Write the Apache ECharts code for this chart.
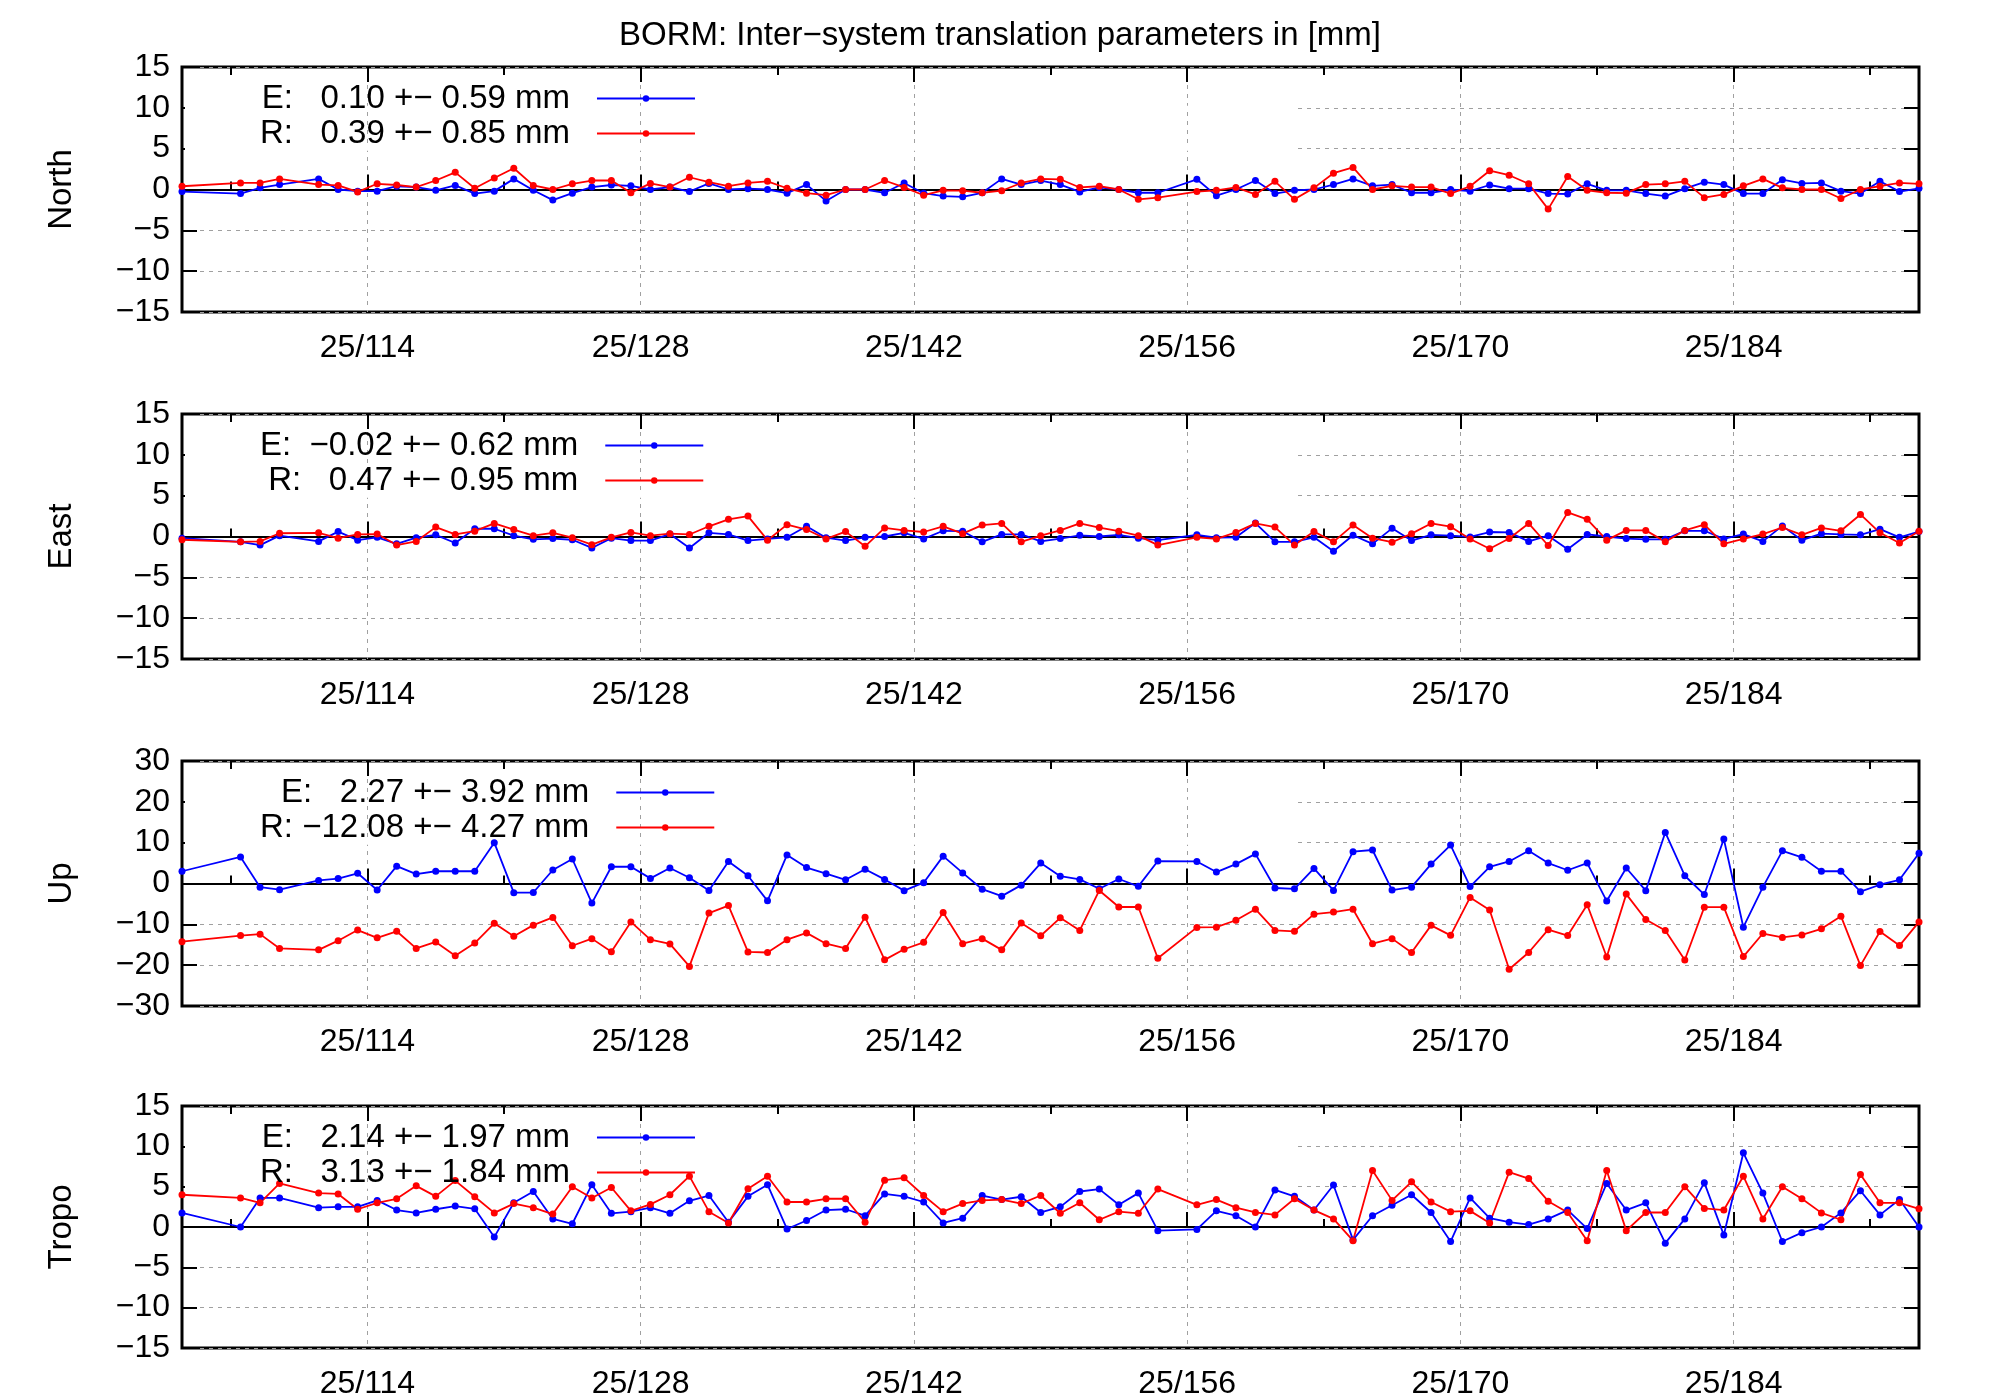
<!DOCTYPE html>
<html><head><meta charset="utf-8">
<script src="https://cdn.jsdelivr.net/npm/echarts@6/dist/echarts.min.js"></script>
<style>html,body{margin:0;padding:0;background:#fff}#c{width:2000px;height:1400px}</style>
</head><body><div id="c"></div>
<script>
const title = 'BORM: Inter\u2212system translation parameters in [mm]';
const days = [104.5,107.5,108.5,109.5,111.5,112.5,113.5,114.5,115.5,116.5,117.5,118.5,119.5,120.5,121.5,122.5,123.5,124.5,125.5,126.5,127.5,
128.5,129.5,130.5,131.5,132.5,133.5,134.5,135.5,136.5,137.5,138.5,139.5,140.5,141.5,142.5,143.5,144.5,145.5,146.5,147.5,148.5,149.5,
150.5,151.5,152.5,153.5,154.5,156.5,157.5,158.5,159.5,160.5,161.5,162.5,163.5,164.5,165.5,166.5,167.5,168.5,169.5,170.5,171.5,172.5,
173.5,174.5,175.5,176.5,177.5,178.5,179.5,180.5,181.5,182.5,183.5,184.5,185.5,186.5,187.5,188.5,189.5,190.5,191.5,192.5,193.5];
const majorTicks = [114,128,142,156,170,184];
const minorTicks = [107,121,135,149,163,177,191];
const panelNames = ['North','East','Up','Tropo'];
const legendE = ['E:   0.10 +\u2212 0.59 mm','E:  \u22120.02 +\u2212 0.62 mm','E:   2.27 +\u2212 3.92 mm','E:   2.14 +\u2212 1.97 mm'];
const legendR = ['R:   0.39 +\u2212 0.85 mm','R:   0.47 +\u2212 0.95 mm','R: \u221212.08 +\u2212 4.27 mm','R:   3.13 +\u2212 1.84 mm'];
const northE = [-0.25,-0.5,0.2,0.6,1.3,0,-0.2,-0.2,0.4,0.3,-0.1,0.5,-0.5,-0.2,1.3,-0.1,-1.3,-0.45,0.3,0.55,0.45,0,0.3,-0.25,0.75,0,0.1,0,
-0.45,0.6,-1.4,0,0,-0.4,0.8,-0.45,-0.8,-0.9,-0.4,1.3,0.6,1.1,0.6,-0.3,0.25,0,-0.4,-0.4,1.25,-0.75,0,1.1,-0.5,-0.1,0,0.6,1.3,
0.45,0.6,-0.4,-0.4,0,-0.2,0.55,0.1,0.1,-0.5,-0.55,0.7,-0.1,-0.1,-0.5,-0.8,0.1,0.9,0.6,-0.5,-0.5,1.2,0.75,0.8,-0.2,-0.5,1.0,-0.25,0.15];
const northR = [0.4,0.8,0.8,1.3,0.6,0.5,-0.3,0.7,0.55,0.3,1.1,2.1,0.15,1.4,2.6,0.5,0,0.7,1.1,1.1,-0.4,0.75,0.3,1.5,0.9,0.4,0.8,1.0,
0.15,-0.45,-0.7,0,0,1.1,0.25,-0.7,-0.1,-0.15,-0.4,-0.15,0.8,1.3,1.25,0.25,0.4,0,-1.2,-1.0,-0.25,-0.1,0.25,-0.6,1.0,-1.2,0.2,2.0,2.7,
0,0.45,0.3,0.3,-0.5,0.4,2.3,1.75,0.7,-2.4,1.6,-0.1,-0.4,-0.45,0.6,0.7,1.0,-1.0,-0.6,0.45,1.3,0.2,0,0,-1.1,0,0.4,0.8,0.7];
const eastE = [-0.2,-0.65,-1.05,0.1,-0.6,0.6,-0.45,-0.1,-0.9,-0.15,0.2,-0.8,0.95,0.95,0.1,-0.35,-0.25,-0.4,-1.4,-0.2,-0.5,-0.5,0.3,-1.4,0.45,0.25,-0.5,-0.3,
-0.1,1.25,-0.15,-0.5,-0.1,0,0.45,-0.3,0.7,0.65,-0.65,0.25,0.25,-0.6,-0.25,0.15,0,0.2,-0.2,-0.45,0.2,-0.15,-0.1,1.65,-0.65,-0.65,-0.1,-1.8,0.15,
-0.9,1.0,-0.5,0.2,0.1,-0.05,0.55,0.5,-0.6,0.1,-1.55,0.25,0,-0.25,-0.35,-0.35,0.7,0.7,-0.3,0.3,-0.6,1.3,-0.45,0.35,0.25,0.2,0.9,-0.1,0.6];
const eastR = [-0.4,-0.65,-0.6,0.4,0.45,-0.2,0.25,0.3,-1.05,-0.6,1.15,0.25,0.65,1.6,0.85,0.1,0.45,-0.15,-1.0,-0.1,0.5,0.1,0.35,0.25,1.25,2.1,2.5,-0.45,
1.45,0.85,-0.3,0.6,-1.2,1.05,0.75,0.55,1.25,0.35,1.4,1.6,-0.65,0.1,0.75,1.6,1.1,0.65,0.1,-1.05,-0.1,-0.3,0.5,1.6,1.15,-1.05,0.6,-0.65,1.4,
-0.2,-0.7,0.35,1.6,1.2,-0.3,-1.5,-0.25,1.6,-1.1,2.95,2.1,-0.45,0.75,0.75,-0.65,0.75,1.45,-0.9,-0.3,0.3,1.1,0.2,1.05,0.7,2.7,0.45,-0.8,0.65];
const upE = [3.0,6.5,-0.9,-1.5,0.75,1.2,2.5,-1.6,4.25,2.3,3.0,3.0,3.0,10,-2.25,-2.2,3.3,6.0,-4.8,4.1,4.1,
1.25,3.8,1.4,-1.7,5.4,1.9,-4.25,7,3.9,2.4,0.9,3.5,1.0,-1.75,0.2,6.7,2.6,-1.4,-3.1,-0.4,5,1.8,
1.0,-1.3,1.1,-0.7,5.5,5.4,2.8,4.75,7.25,-1.1,-1.3,3.7,-1.7,7.8,8.2,-1.6,-0.9,4.75,9.4,-0.75,4.1,5.4,
8,5,3.25,5,-4.3,3.8,-1.75,12.5,1.9,-2.7,10.9,-10.7,-0.9,8,6.4,3,3,-2,-0.3,0.9,7.4];
const upR = [-14.25,-12.75,-12.4,-15.9,-16.25,-14,-11.4,-13.3,-11.7,-15.9,-14.3,-17.7,-14.6,-9.75,-12.9,-10.2,-8.3,-15.25,-13.5,-16.7,-9.4,
-13.75,-14.8,-20.3,-7.25,-5.4,-16.75,-16.9,-13.75,-12.1,-14.75,-15.9,-8.25,-18.7,-16.1,-14.4,-7.1,-14.75,-13.5,-16.25,-9.7,-12.8,-8.4,
-11.5,-1.7,-5.75,-5.75,-18.3,-10.75,-10.7,-9,-6.3,-11.5,-11.7,-7.5,-7,-6.3,-14.75,-13.5,-16.9,-10.25,-12.7,-3.4,-6.5,-21,
-16.9,-11.3,-12.75,-5.2,-18,-2.6,-8.8,-11.5,-18.75,-5.8,-5.8,-17.9,-12.25,-13.2,-12.6,-11.1,-8,-20.1,-11.75,-15.2,-9.4];
const tropoE = [1.75,0,3.6,3.6,2.4,2.5,2.5,3.3,2.1,1.75,2.2,2.6,2.25,-1.25,3.0,4.4,1.0,0.4,5.25,1.7,1.9,2.4,1.7,3.25,3.9,0.6,3.8,5.25,
-0.25,0.8,2.1,2.2,1.4,4.1,3.8,3.1,0.5,1.1,3.9,3.4,3.75,1.8,2.5,4.4,4.7,2.75,4.2,-0.45,-0.3,2.0,1.4,0,4.6,3.8,2.1,5.2,-1.6,
1.4,2.7,4.0,1.8,-1.8,3.6,1.1,0.6,0.3,1.0,2.1,-0.2,5.4,2.1,3.0,-2.0,1.0,5.5,-1.0,9.2,4.2,-1.8,-0.7,0,1.75,4.5,1.5,3.4,0];
const tropoR = [4.0,3.6,3.0,5.4,4.2,4.1,2.2,3.0,3.5,5.1,3.8,5.75,3.75,1.75,2.9,2.4,1.6,5.0,3.6,4.9,2.0,2.8,4.0,6.3,1.9,0.5,4.75,6.3,
3.1,3.1,3.5,3.5,0.6,5.8,6.1,3.9,1.9,2.9,3.3,3.4,2.9,3.9,1.7,3.0,0.9,1.9,1.7,4.7,2.75,3.4,2.4,1.8,1.5,3.5,2.1,1.0,-1.7,
7.0,3.3,5.6,3.1,1.9,2.0,0.5,6.8,6.0,3.2,1.8,-1.7,7.0,-0.45,1.8,1.8,5.0,2.3,2.1,6.3,1.0,5.0,3.5,1.75,0.9,6.5,3.0,3.0,2.25];
const seriesE = [northE, eastE, upE, tropoE];
const seriesR = [northR, eastR, upR, tropoR];
const yRanges = [[-15,15,5],[-15,15,5],[-30,30,10],[-15,15,5]];

const FONT = 'Liberation Sans';
const tops = [67, 414, 761, 1106];
const H = 245, L = 182, R = 81;
const fmt = v => String(v).replace('-', '\u2212');
const grid = [], xAxis = [], yAxis = [], series = [], legend = [];
const gray = '#a0a0a0';
panelNames.forEach((name, p) => {
  grid.push({left: L, right: R, top: tops[p], height: H, show: true, borderColor: '#000', borderWidth: 3, backgroundColor: 'transparent'});
  const xb = {gridIndex: p, type: 'value', min: 104.5, max: 193.5, axisLine: {show: false}};
  const xi = xAxis.length;
  xAxis.push(Object.assign({}, xb, {position: 'bottom', axisLabel: {show: true, customValues: majorTicks, formatter: v => '25/' + v, fontFamily: FONT, fontSize: 32, color: '#000', margin: 20},
    axisTick: {show: true, inside: true, length: 15, customValues: majorTicks, lineStyle: {color: '#000', width: 2}},
    splitLine: {show: true, lineStyle: {color: gray, type: [4, 5], width: 1}}}));
  xAxis.push(Object.assign({}, xb, {position: 'bottom', axisLabel: {show: false}, splitLine: {show: false},
    axisTick: {show: true, inside: true, length: 8, customValues: minorTicks, lineStyle: {color: '#000', width: 2}}}));
  xAxis.push(Object.assign({}, xb, {position: 'top', axisLabel: {show: false}, splitLine: {show: false},
    axisTick: {show: true, inside: true, length: 15, customValues: majorTicks, lineStyle: {color: '#000', width: 2}}}));
  xAxis.push(Object.assign({}, xb, {position: 'top', axisLabel: {show: false}, splitLine: {show: false},
    axisTick: {show: true, inside: true, length: 8, customValues: minorTicks, lineStyle: {color: '#000', width: 2}}}));
  xAxis.push(Object.assign({}, xb, {position: 'bottom', axisLine: {show: true, onZero: true, onZeroAxisIndex: p * 2, lineStyle: {color: '#000', width: 2}},
    axisLabel: {show: false}, axisTick: {show: false}, splitLine: {show: false}}));
  const [mn, mx, iv] = yRanges[p];
  const yi = yAxis.length;
  yAxis.push({gridIndex: p, type: 'value', min: mn, max: mx, interval: iv, position: 'left', name: name, nameLocation: 'middle', nameGap: 104,
    nameTextStyle: {fontFamily: FONT, fontSize: 33, color: '#000'},
    axisLine: {show: false}, axisTick: {show: true, inside: true, length: 15, lineStyle: {color: '#000', width: 2}},
    axisLabel: {fontFamily: FONT, fontSize: 32, color: '#000', formatter: fmt, margin: 12},
    splitLine: {show: true, lineStyle: {color: gray, type: [4, 5], width: 1}}});
  yAxis.push({gridIndex: p, type: 'value', min: mn, max: mx, interval: iv, position: 'right',
    axisLine: {show: false}, axisTick: {show: true, inside: true, length: 15, lineStyle: {color: '#000', width: 2}},
    axisLabel: {show: false}, splitLine: {show: false}});
  [[legendE[p], seriesE[p], '#0000ff'], [legendR[p], seriesR[p], '#ff0000']].forEach(([nm, vals, col]) => {
    series.push({type: 'line', name: nm, xAxisIndex: xi, yAxisIndex: yi, data: days.map((d, i) => [d, vals[i]]),
      symbol: 'circle', symbolSize: 7, showSymbol: true, color: col, lineStyle: {color: col, width: 1.8}, itemStyle: {color: col}, z: 3,
      animation: false});
  });
  legend.push({orient: 'vertical', left: 255, top: tops[p] + 10, align: 'right', itemGap: 2, itemWidth: 98, itemHeight: 8,
    data: [legendE[p], legendR[p]], selectedMode: false,
    textStyle: {fontFamily: FONT, fontSize: 33, color: '#000', width: 350, align: 'right', padding: [0, 22, 0, 0]}});
});
const chart = echarts.init(document.getElementById('c'));
chart.setOption({
  animation: false, backgroundColor: '#fff',
  title: {text: title, left: 'center', top: 14, textStyle: {fontFamily: FONT, fontSize: 33, fontWeight: 'normal', color: '#000'}},
  grid, xAxis, yAxis, series, legend
});
const masks = [];
panelNames.forEach((n, p) => {
  const [mn, mx, iv] = yRanges[p];
  [mx - iv, mx - 2 * iv].forEach(v => {
    const py = chart.convertToPixel({yAxisIndex: p * 2}, v);
    masks.push({type: 'rect', z: 1, shape: {x: L + 3, y: py - 2, width: 1294 - L - 3, height: 4}, style: {fill: '#fff'}, silent: true});
  });
});
chart.setOption({graphic: masks});
</script></body></html>
